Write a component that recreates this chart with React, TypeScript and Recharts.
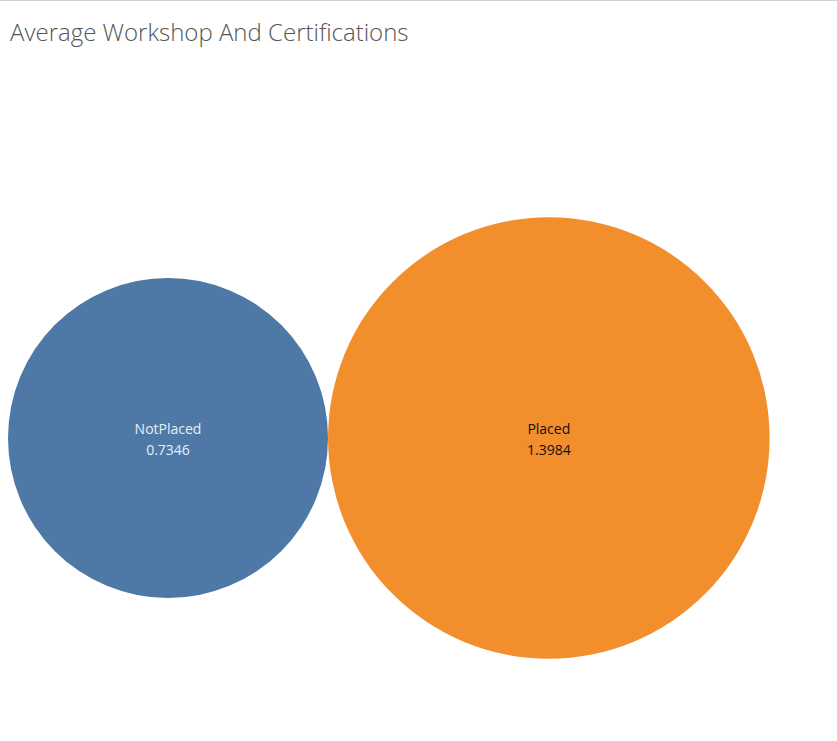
import { ScatterChart, Scatter, XAxis, YAxis, ZAxis, Cell } from "recharts";

const categories = ["NotPlaced", "Placed"];
const values = [0.7346, 1.3984];
const colors = ["#4e79a7", "#f28e2b"];
const labelColors = ["#e8eef5", "#111111"];

// simple horizontal packing: radius grows with sqrt(value), circles touch
const radii = values.map((v) => Math.sqrt(v));
const data = categories.map((name, i) => {
  let x = radii[i];
  for (let j = 0; j < i; j++) x += 2 * radii[j];
  return { name, value: values[i], x, y: 0, i };
});

const W = 837;
const H = 741;
const PX = 186.7; // pixels per sqrt unit
const maxR = Math.sqrt(Math.max(...values)) * PX;

const Bubble = (props: any) => {
  const { cx, cy, payload } = props;
  const r = Math.sqrt(payload.value) * PX;
  return (
    <g>
      <circle cx={cx} cy={cy} r={r} fill={colors[payload.i]} />
      <text x={cx} y={cy - 4} textAnchor="middle" fontSize={14} fill={labelColors[payload.i]} fontFamily="Open Sans">
        {payload.name}
      </text>
      <text x={cx} y={cy + 17} textAnchor="middle" fontSize={14} fill={labelColors[payload.i]} fontFamily="Open Sans">
        {payload.value.toFixed(4)}
      </text>
    </g>
  );
};

export default function App() {
  return (
    <div style={{ position: "absolute", left: 0, top: 0, width: W, height: H, background: "#fff", borderTop: "1px solid #d0d0d0", fontFamily: "Open Sans" }}>
      <div style={{ position: "absolute", left: 10, top: 14, fontSize: 24, fontWeight: 300, color: "#555" }}>
        Average Workshop And Certifications
      </div>
      <ScatterChart width={W} height={H} margin={{ top: 0, right: 0, bottom: 0, left: 0 }}>
        <XAxis type="number" dataKey="x" hide domain={[-8 / PX, (W - 8) / PX]} />
        <YAxis type="number" dataKey="y" hide domain={[-(H - 437) / PX, 437 / PX]} />
        <ZAxis type="number" dataKey="value" domain={[0, Math.max(...values)]} range={[0, Math.PI * maxR * maxR]} />
        <Scatter data={data} isAnimationActive={false} shape={Bubble}>
          {data.map((d) => (
            <Cell key={d.name} fill={colors[d.i]} />
          ))}
        </Scatter>
      </ScatterChart>
    </div>
  );
}
